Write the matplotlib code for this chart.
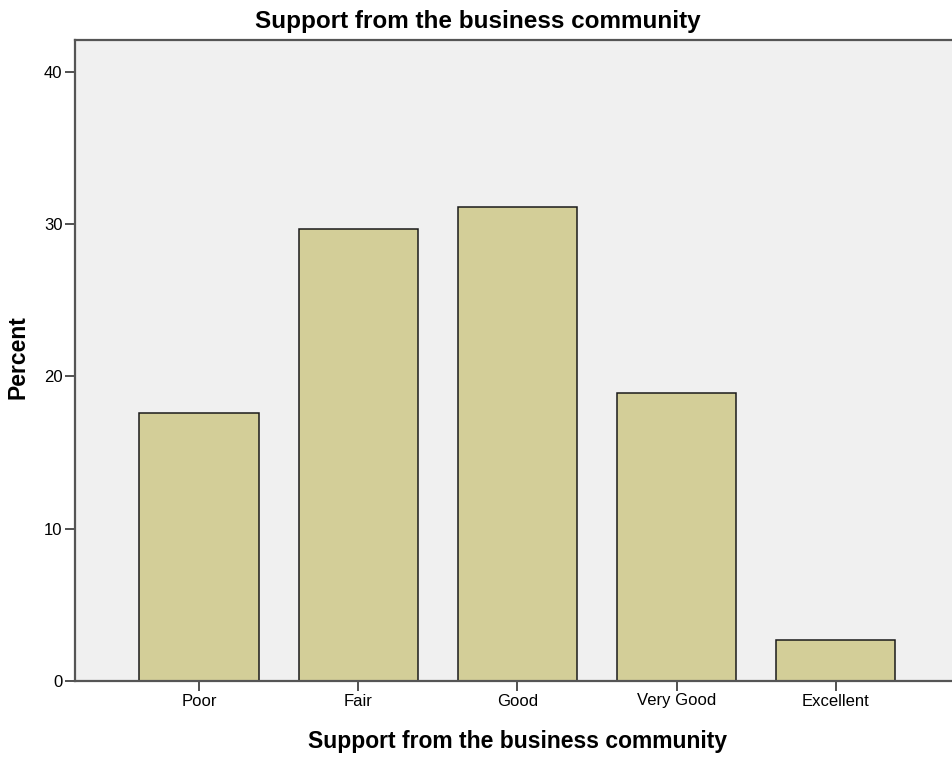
import matplotlib
matplotlib.use("Agg")
import matplotlib.pyplot as plt

categories = ["Poor", "Fair", "Good", "Very Good", "Excellent"]
percent = [17.6, 29.7, 31.1, 18.9, 2.7]
yticks = [0, 10, 20, 30, 40]

plt.rcParams['font.family'] = ['Liberation Sans', 'DejaVu Sans']

W, H = 952, 759
fig = plt.figure(figsize=(W/100, H/100), dpi=100)
ax = fig.add_axes([75/W, 78/H, 1 - 75/W, (681-40)/H])
ax.set_facecolor('#F0F0F0')
x = list(range(len(categories)))
ax.bar(x, percent, width=0.75, color='#D3CE98', edgecolor='#1a1a1a', linewidth=1.1, zorder=2)
ax.set_xlim(-0.78, 4.73)
ax.set_ylim(0, 42.1)
ax.set_xticks(x)
ax.set_xticklabels(categories, fontsize=12)
ax.set_yticks(yticks)
ax.set_yticklabels([str(v) for v in yticks], fontsize=12)
ax.tick_params(axis='both', direction='out', length=7, width=1.2, color='#333333', pad=2)
for s in ['left', 'bottom', 'top']:
    ax.spines[s].set_color('#555555')
    ax.spines[s].set_linewidth(1.6)
ax.spines['right'].set_visible(False)
fig.text(517.5/W, 1 - 748/H, "Support from the business community", ha='center', va='baseline',
         fontsize=16.5, fontweight='bold')
fig.text(18/W, 1 - 357/H, "Percent", ha='center', va='center', rotation=90,
         fontsize=16.5, fontweight='bold')
fig.text(478/W, 1 - 28/H, "Support from the business community", ha='center', va='baseline',
         fontsize=17.5, fontweight='bold')
fig.savefig("out.png", dpi=100)
